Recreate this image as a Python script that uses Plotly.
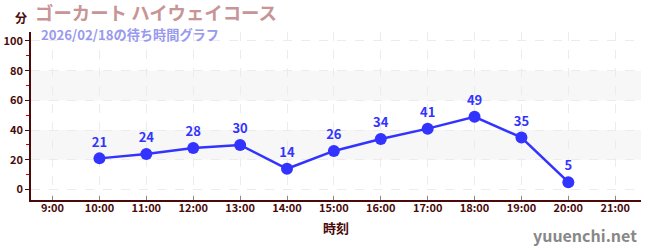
import plotly.graph_objects as go

hours = [10, 11, 12, 13, 14, 15, 16, 17, 18, 19, 20]
waits = [21, 24, 28, 30, 14, 26, 34, 41, 49, 35, 5]
tick_hours = list(range(9, 22))
tick_labels = [f"<b>{h}:00</b>" for h in tick_hours]
y_ticks = [0, 20, 40, 60, 80, 100]
y_labels = [f"<b>{v}</b>" for v in y_ticks]
bands = [(20, 40), (60, 80)]

title = "ゴーカート ハイウェイコース"
subtitle = "2026/02/18の待ち時間グラフ"
unit = "分"
xlabel = "時刻"
site = "yuuenchi.net"

FONT = "Noto Sans CJK JP"
AX = "#4a0a0a"
BLUE = "#3333ff"

fig = go.Figure()
for lo, hi in bands:
    fig.add_hrect(y0=lo, y1=hi, fillcolor="#f7f7f7", line_width=0, layer="below")

fig.add_trace(go.Scatter(
    x=hours, y=waits, mode="lines+markers+text",
    line=dict(color=BLUE, width=2.5),
    marker=dict(color=BLUE, size=12),
    text=[str(v) for v in waits], textposition="top center",
    textfont=dict(family=FONT, size=13, color=BLUE, weight="bold"),
    cliponaxis=False, hoverinfo="skip",
))

fig.update_layout(
    width=650, height=250,
    margin=dict(l=31, r=9, t=32, b=50),
    plot_bgcolor="white", paper_bgcolor="white",
    showlegend=False,
    font=dict(family=FONT, color=AX),
    xaxis=dict(
        range=[8.54, 21.55], tickmode="array", tickvals=tick_hours, ticktext=tick_labels,
        showline=True, linecolor=AX, linewidth=1.5, automargin=False,
        ticks="inside", ticklen=4, tickcolor="#888888",
        ticklabelstandoff=-3,
        tickfont=dict(family=FONT, size=11, color=AX),
        showgrid=True, gridcolor="#ececec", griddash="dash", gridwidth=1,
        zeroline=False,
        title=dict(text=f"<b>{xlabel}</b>", font=dict(family=FONT, size=13, color=AX), standoff=10),
    ),
    yaxis=dict(
        range=[-7, 106], tickmode="array", tickvals=y_ticks, ticktext=y_labels,
        showline=True, linecolor=AX, linewidth=1.5, automargin=False,
        ticks="outside", ticklen=4, tickcolor=AX,
        tickfont=dict(family=FONT, size=11, color=AX),
        showgrid=True, gridcolor="#ececec", griddash="dash", gridwidth=1,
        zeroline=False,
        minor=dict(tickvals=[10, 30, 50, 70, 90], ticks="outside", ticklen=3, tickcolor="#cc0000", showgrid=False),
    ),
)

fig.add_annotation(text=f"<b>{unit}</b>", xref="paper", yref="paper", x=0, y=1, xshift=-10, yshift=4,
                   xanchor="center", yanchor="bottom", showarrow=False,
                   font=dict(family=FONT, size=12, color=AX))
fig.add_annotation(text=f"<b>{title}</b>", xref="paper", yref="paper", x=0, y=1, xshift=2, yshift=5,
                   xanchor="left", yanchor="bottom", showarrow=False,
                   font=dict(family=FONT, size=18.4, color="#c79595"))
fig.add_annotation(text=f"<b>{subtitle}</b>", xref="paper", yref="paper", x=0, y=1, xshift=8, yshift=-14,
                   xanchor="left", yanchor="bottom", showarrow=False,
                   font=dict(family=FONT, size=13.2, color="#9999ee"))
fig.add_annotation(text=site, xref="paper", yref="paper", x=1, y=0, xshift=-2, yshift=-49,
                   xanchor="right", yanchor="bottom", showarrow=False,
                   font=dict(family=FONT, size=16, color="#888888", weight="bold"))

fig.write_html("out.html")
